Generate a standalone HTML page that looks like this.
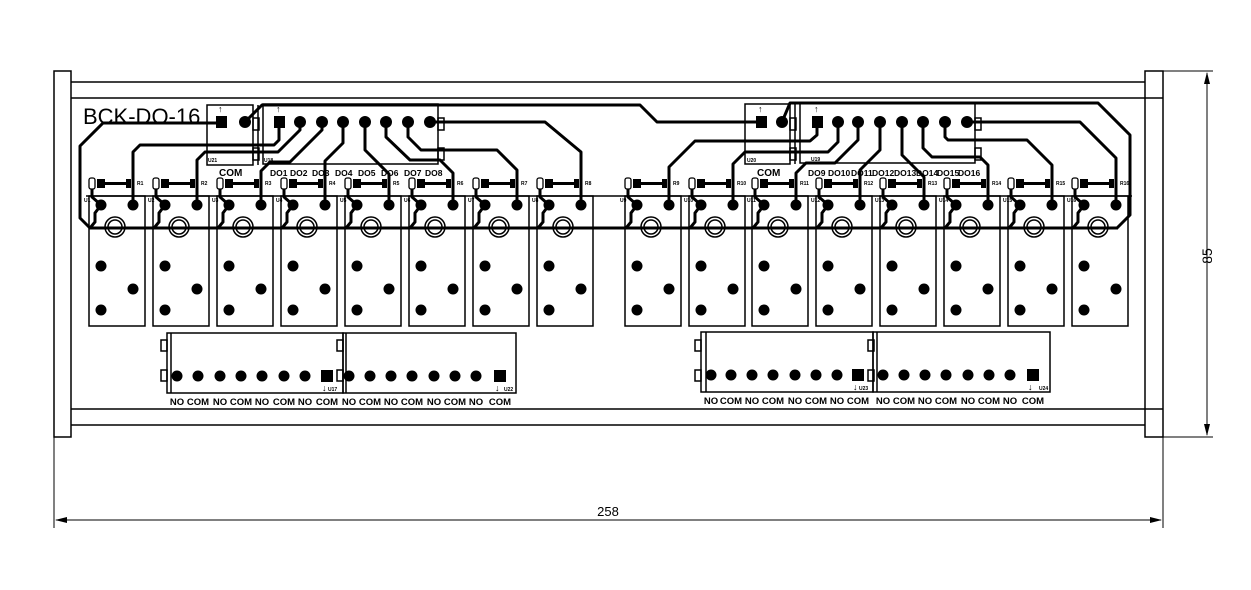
<!DOCTYPE html>
<html><head><meta charset="utf-8"><style>
html,body{margin:0;padding:0;background:#fff;}
svg{display:block;font-family:"Liberation Sans",Arial,sans-serif;}
</style></head><body>
<svg width="1251" height="590" viewBox="0 0 1251 590" xmlns="http://www.w3.org/2000/svg">
<defs>
<g id="rl">
 <rect x="0" y="196" width="56" height="130" fill="none" stroke="#000" stroke-width="1.5"/>
 <rect x="0" y="178" width="6" height="11" rx="2" fill="#fff" stroke="#000" stroke-width="1.3"/>
 <rect x="8" y="179" width="8" height="9" fill="#000"/>
 <line x1="16" y1="183.5" x2="38" y2="183.5" stroke="#000" stroke-width="3"/>
 <rect x="37" y="179" width="5" height="9" fill="#000"/>
 <path d="M3,189 V197 L12,205 L6,213 V222 L1,228" fill="none" stroke="#000" stroke-width="3"/>
 <circle cx="12" cy="205" r="5.5"/>
 <circle cx="44" cy="205" r="5.5"/>
 <circle cx="26" cy="227" r="10" fill="#fff" stroke="#000" stroke-width="1.5"/>
 <circle cx="26" cy="227" r="7" fill="none" stroke="#000" stroke-width="1.5"/>
 <circle cx="12" cy="266" r="5.5"/>
 <circle cx="44" cy="289" r="5.5"/>
 <circle cx="12" cy="310" r="5.5"/>
</g>
</defs>
<g fill="none" stroke="#000" stroke-width="1.5">
 <rect x="54" y="71" width="17" height="366"/>
 <rect x="1145" y="71" width="18" height="366"/>
 <line x1="71" y1="82" x2="1145" y2="82"/>
 <line x1="71" y1="98" x2="1163" y2="98"/>
 <line x1="71" y1="409" x2="1163" y2="409"/>
 <line x1="71" y1="425" x2="1145" y2="425"/>
 <line x1="1163" y1="71" x2="1213" y2="71" stroke-width="1"/>
 <line x1="1163" y1="437" x2="1213" y2="437" stroke-width="1"/>
 <line x1="1207" y1="73" x2="1207" y2="435" stroke-width="1"/>
 <line x1="54" y1="437" x2="54" y2="528" stroke-width="1"/>
 <line x1="1163" y1="437" x2="1163" y2="528" stroke-width="1"/>
 <line x1="56" y1="520" x2="1161" y2="520" stroke-width="1"/>
 <rect x="207" y="105" width="46" height="60"/>
 <line x1="258" y1="105" x2="258" y2="165"/>
 <rect x="253" y="118" width="6" height="12"/><rect x="253" y="148" width="6" height="12"/>
 <rect x="263" y="104" width="175" height="60"/>
 <rect x="438" y="118" width="6" height="12"/><rect x="438" y="148" width="6" height="12"/>
 <rect x="745" y="104" width="45" height="60"/>
 <line x1="795" y1="104" x2="795" y2="164"/>
 <rect x="790" y="118" width="6" height="12"/><rect x="790" y="148" width="6" height="12"/>
 <rect x="800" y="103" width="175" height="60"/>
 <rect x="975" y="118" width="6" height="12"/><rect x="975" y="148" width="6" height="12"/>
 <rect x="167" y="333" width="176" height="60"/><line x1="171" y1="333" x2="171" y2="393"/>
 <rect x="161" y="340" width="6" height="11"/><rect x="161" y="370" width="6" height="11"/>
 <rect x="337" y="340" width="6" height="11"/><rect x="337" y="370" width="6" height="11"/>
 <rect x="343" y="333" width="173" height="60"/><line x1="346" y1="333" x2="346" y2="393"/>
 <rect x="701" y="332" width="172" height="60"/><line x1="706" y1="332" x2="706" y2="392"/>
 <rect x="695" y="340" width="6" height="11"/><rect x="695" y="370" width="6" height="11"/>
 <rect x="868" y="340" width="6" height="11"/><rect x="868" y="370" width="6" height="11"/>
 <rect x="873" y="332" width="177" height="60"/><line x1="877" y1="332" x2="877" y2="392"/>
 <line x1="86" y1="196" x2="1132" y2="196"/>
</g>
<path d="M1207,72 l-3,12 h6z M1207,436 l-3,-12 h6z M55,520 l12,-3 v6z M1162,520 l-12,-3 v6z" fill="#000"/>
<text x="1212" y="256" font-size="14" transform="rotate(-90 1212 256)" text-anchor="middle">85</text>
<text x="608" y="516" font-size="13" text-anchor="middle">258</text>
<text x="83" y="124" font-size="22">BCK-DO-16</text>
<use href="#rl" x="89"/><use href="#rl" x="153"/><use href="#rl" x="217"/><use href="#rl" x="281"/>
<use href="#rl" x="345"/><use href="#rl" x="409"/><use href="#rl" x="473"/><use href="#rl" x="537"/>
<use href="#rl" x="625"/><use href="#rl" x="689"/><use href="#rl" x="752"/><use href="#rl" x="816"/>
<use href="#rl" x="880"/><use href="#rl" x="944"/><use href="#rl" x="1008"/><use href="#rl" x="1072"/>
<g fill="none" stroke="#000" stroke-width="3" stroke-linejoin="round">
 <line x1="89" y1="228" x2="1118" y2="228"/>
 <path d="M222,123 H103 L80,146 V218 L90,228"/>
 <path d="M245,122 L262,105 H640 L657,122 H762"/>
 <path d="M279,122 V140 L274,145 H140 L133,152 V205"/>
 <path d="M300,122 V130 L278,152 H205 L197,160 V205"/>
 <path d="M322,122 V130 L290,162 H270 L261,171 V205"/>
 <path d="M343,122 V143 L325,161 V205"/>
 <path d="M365,122 V150 L389,174 V205"/>
 <path d="M386,122 V137 L410,160 H440 L453,173 V205"/>
 <path d="M408,122 V137 L421,150 H497 L517,170 V205"/>
 <path d="M430,122 H545 L581,152 V205"/>
 <path d="M782,122 L790,103 H1098 L1130,135 V215 L1117,228"/>
 <path d="M817,122 V135 L810,141 H695 L669,167 V205"/>
 <path d="M838,122 V142 L828,152 H745 L733,164 V205"/>
 <path d="M858,122 V140 L835,163 H806 L796,173 V205"/>
 <path d="M880,122 V150 L860,170 V205"/>
 <path d="M902,122 V155 L924,177 V205"/>
 <path d="M923,122 V148 L932,157 H980 L988,165 V205"/>
 <path d="M945,122 V137 L948,140 H1027 L1052,165 V205"/>
 <path d="M967,122 H1080 L1116,158 V205"/>
</g>
<g fill="#000">
 <rect x="216" y="116" width="11" height="12"/><circle cx="245" cy="122" r="6"/>
 <rect x="274" y="116" width="11" height="12"/>
 <circle cx="300" cy="122" r="6"/><circle cx="322" cy="122" r="6"/><circle cx="343" cy="122" r="6"/><circle cx="365" cy="122" r="6"/>
 <circle cx="386" cy="122" r="6"/><circle cx="408" cy="122" r="6"/><circle cx="430" cy="122" r="6"/>
 <rect x="756" y="116" width="11" height="12"/><circle cx="782" cy="122" r="6"/>
 <rect x="812" y="116" width="11" height="12"/>
 <circle cx="838" cy="122" r="6"/><circle cx="858" cy="122" r="6"/><circle cx="880" cy="122" r="6"/><circle cx="902" cy="122" r="6"/>
 <circle cx="923" cy="122" r="6"/><circle cx="945" cy="122" r="6"/><circle cx="967" cy="122" r="6"/>
 <circle cx="177" cy="376" r="5.5"/><circle cx="198" cy="376" r="5.5"/><circle cx="220" cy="376" r="5.5"/><circle cx="241" cy="376" r="5.5"/>
 <circle cx="262" cy="376" r="5.5"/><circle cx="284" cy="376" r="5.5"/><circle cx="305" cy="376" r="5.5"/><rect x="321" y="370" width="12" height="12"/>
 <circle cx="349" cy="376" r="5.5"/><circle cx="370" cy="376" r="5.5"/><circle cx="391" cy="376" r="5.5"/><circle cx="412" cy="376" r="5.5"/>
 <circle cx="434" cy="376" r="5.5"/><circle cx="455" cy="376" r="5.5"/><circle cx="476" cy="376" r="5.5"/><rect x="494" y="370" width="12" height="12"/>
 <circle cx="711" cy="375" r="5.5"/><circle cx="731" cy="375" r="5.5"/><circle cx="752" cy="375" r="5.5"/><circle cx="773" cy="375" r="5.5"/>
 <circle cx="795" cy="375" r="5.5"/><circle cx="816" cy="375" r="5.5"/><circle cx="837" cy="375" r="5.5"/><rect x="852" y="369" width="12" height="12"/>
 <circle cx="883" cy="375" r="5.5"/><circle cx="904" cy="375" r="5.5"/><circle cx="925" cy="375" r="5.5"/><circle cx="946" cy="375" r="5.5"/>
 <circle cx="968" cy="375" r="5.5"/><circle cx="989" cy="375" r="5.5"/><circle cx="1010" cy="375" r="5.5"/><rect x="1027" y="369" width="12" height="12"/>
</g>
<g font-size="9" font-weight="bold">
 <text x="218" y="112">↑</text><text x="276" y="112">↑</text><text x="758" y="112">↑</text><text x="814" y="112">↑</text>
 <text x="322" y="391">↓</text><text x="495" y="391">↓</text><text x="853" y="390">↓</text><text x="1028" y="390">↓</text>
</g>
<g font-size="5" font-weight="bold">
 <text x="208" y="162">U21</text><text x="264" y="162">U18</text><text x="747" y="162">U20</text><text x="811" y="161">U19</text>
 <text x="328" y="391">U17</text><text x="504" y="391">U22</text><text x="859" y="390">U23</text><text x="1039" y="390">U24</text>
 <text x="137" y="185">R1</text><text x="201" y="185">R2</text><text x="265" y="185">R3</text><text x="329" y="185">R4</text>
 <text x="393" y="185">R5</text><text x="457" y="185">R6</text><text x="521" y="185">R7</text><text x="585" y="185">R8</text>
 <text x="673" y="185">R9</text><text x="737" y="185">R10</text><text x="800" y="185">R11</text><text x="864" y="185">R12</text>
 <text x="928" y="185">R13</text><text x="992" y="185">R14</text><text x="1056" y="185">R15</text><text x="1120" y="185">R16</text>
 <text x="84" y="202">U1</text><text x="148" y="202">U2</text><text x="212" y="202">U3</text><text x="276" y="202">U4</text>
 <text x="340" y="202">U5</text><text x="404" y="202">U6</text><text x="468" y="202">U7</text><text x="532" y="202">U8</text>
 <text x="620" y="202">U9</text><text x="684" y="202">U10</text><text x="747" y="202">U11</text><text x="811" y="202">U12</text>
 <text x="875" y="202">U13</text><text x="939" y="202">U14</text><text x="1003" y="202">U15</text><text x="1067" y="202">U16</text>
</g>
<g font-size="10" font-weight="bold">
 <text x="219" y="176">COM</text>
 <text x="757" y="176">COM</text>
</g>
<g font-size="8.5" font-weight="bold">
 <text x="270" y="176">DO1</text><text x="290" y="176">DO2</text><text x="312" y="176">DO3</text><text x="335" y="176">DO4</text>
 <text x="358" y="176">DO5</text><text x="381" y="176">DO6</text><text x="404" y="176">DO7</text><text x="425" y="176">DO8</text>
 <text x="808" y="176">DO9</text><text x="828" y="176">DO10</text><text x="851" y="176">DO11</text><text x="872" y="176">DO12</text>
 <text x="894" y="176">DO13</text><text x="916" y="176">DO14</text><text x="937" y="176">DO15</text><text x="958" y="176">DO16</text>
</g>
<g font-size="9.5" font-weight="bold" text-anchor="middle">
 <text x="177" y="405">NO</text><text x="198" y="405">COM</text><text x="220" y="405">NO</text><text x="241" y="405">COM</text>
 <text x="262" y="405">NO</text><text x="284" y="405">COM</text><text x="305" y="405">NO</text><text x="327" y="405">COM</text>
 <text x="349" y="405">NO</text><text x="370" y="405">COM</text><text x="391" y="405">NO</text><text x="412" y="405">COM</text>
 <text x="434" y="405">NO</text><text x="455" y="405">COM</text><text x="476" y="405">NO</text><text x="500" y="405">COM</text>
 <text x="711" y="404">NO</text><text x="731" y="404">COM</text><text x="752" y="404">NO</text><text x="773" y="404">COM</text>
 <text x="795" y="404">NO</text><text x="816" y="404">COM</text><text x="837" y="404">NO</text><text x="858" y="404">COM</text>
 <text x="883" y="404">NO</text><text x="904" y="404">COM</text><text x="925" y="404">NO</text><text x="946" y="404">COM</text>
 <text x="968" y="404">NO</text><text x="989" y="404">COM</text><text x="1010" y="404">NO</text><text x="1033" y="404">COM</text>
</g>
</svg>
</body></html>
